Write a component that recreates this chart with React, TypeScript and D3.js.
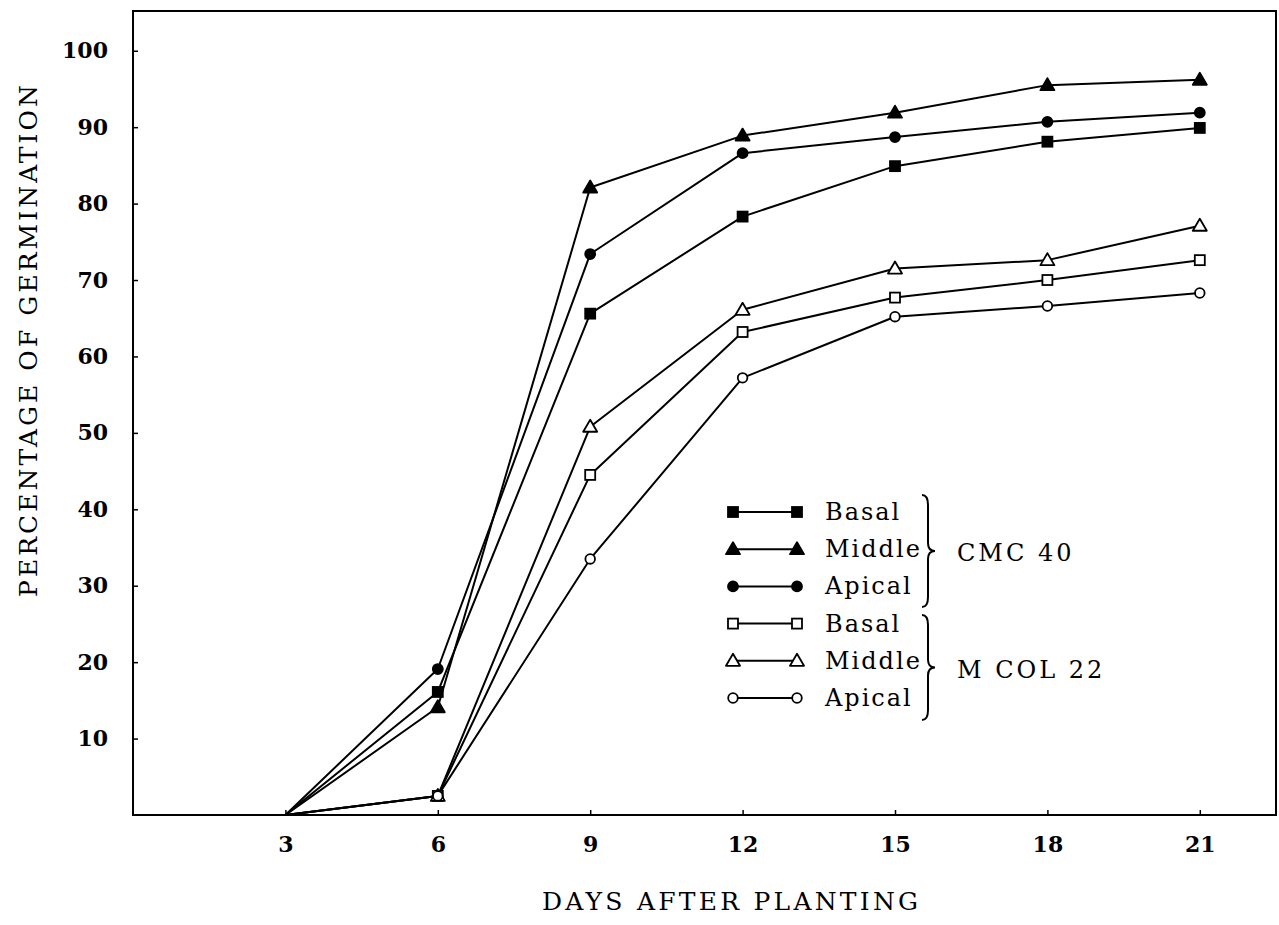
import * as d3 from 'd3';
import { useEffect, useRef } from 'react';

// days after planting
const days = [3, 6, 9, 12, 15, 18, 21];

// percentage of germination
const cmcBasal = [0, 16.1, 65.6, 78.3, 84.9, 88.1, 89.9];
const cmcMiddle = [0, 14.1, 82.1, 88.9, 91.9, 95.5, 96.2];
const cmcApical = [0, 19.1, 73.4, 86.6, 88.7, 90.7, 91.9];
const mcolBasal = [0, 2.5, 44.5, 63.2, 67.7, 70.0, 72.6];
const mcolMiddle = [0, 2.5, 50.8, 66.1, 71.5, 72.6, 77.1];
const mcolApical = [0, 2.5, 33.5, 57.2, 65.2, 66.6, 68.3];

const yTickValues = [10, 20, 30, 40, 50, 60, 70, 80, 90, 100];
const xTickValues = [3, 6, 9, 12, 15, 18, 21];

const seriesNames = ['Basal', 'Middle', 'Apical', 'Basal', 'Middle', 'Apical'];
const seriesShapes = ['square', 'triangle', 'circle', 'square', 'triangle', 'circle'];
const seriesFilled = [true, true, true, false, false, false];
const seriesValues = [cmcBasal, cmcMiddle, cmcApical, mcolBasal, mcolMiddle, mcolApical];
const groupNames = ['CMC 40', 'M COL 22'];

const xLabel = 'DAYS AFTER PLANTING';
const yLabel = 'PERCENTAGE OF GERMINATION';

const W = 1279;
const H = 925;
const FONT = '"DejaVu Serif", serif';

function drawMarker(g, shape, filled, cx, cy) {
    const fill = filled ? '#000' : '#fff';
    if (shape === 'square') {
        g.append('rect')
            .attr('x', cx - 5).attr('y', cy - 5)
            .attr('width', 10).attr('height', 10)
            .attr('fill', fill).attr('stroke', '#000').attr('stroke-width', 1.8);
    } else if (shape === 'triangle') {
        g.append('path')
            .attr('d', `M${cx},${cy - 7} L${cx + 7},${cy + 5} L${cx - 7},${cy + 5} Z`)
            .attr('fill', fill).attr('stroke', '#000').attr('stroke-width', 1.8)
            .attr('stroke-linejoin', 'round');
    } else {
        g.append('circle')
            .attr('cx', cx).attr('cy', cy).attr('r', filled ? 5 : 4.8)
            .attr('fill', fill).attr('stroke', '#000').attr('stroke-width', 1.8);
    }
}

function bracePath(x, y0, y1, w) {
    const ym = (y0 + y1) / 2;
    const xm = x + w * 0.6;
    return `M${x},${y0} Q${xm},${y0} ${xm},${y0 + w}` +
        ` L${xm},${ym - w * 0.8} Q${xm},${ym} ${x + w * 1.3},${ym}` +
        ` Q${xm},${ym} ${xm},${ym + w * 0.8}` +
        ` L${xm},${y1 - w} Q${xm},${y1} ${x},${y1}`;
}

const App = () => {
    const svgRef = useRef(null);
    const margin = { top: 11, bottom: 110, right: 3, left: 133 };

    useEffect(() => {
        const svg = d3.select(svgRef.current)
            .attr('width', W)
            .attr('height', H);
        svg.selectAll('*').remove();

        const x = d3.scaleLinear().domain([0, 22.5]).range([margin.left, W - margin.right]);
        const y = d3.scaleLinear().domain([0, 105.2]).range([H - margin.bottom, margin.top]);

        svg.append('rect').attr('width', W).attr('height', H).attr('fill', '#fff');

        // frame
        svg.append('rect')
            .attr('x', x(0)).attr('y', y(105.2))
            .attr('width', x(22.5) - x(0)).attr('height', y(0) - y(105.2))
            .attr('fill', 'none').attr('stroke', '#000').attr('stroke-width', 2);

        const xAxis = d3.axisBottom(x).tickValues(xTickValues).tickSize(-5).tickPadding(21)
            .tickFormat(d3.format('d'));
        const yAxis = d3.axisLeft(y).tickValues(yTickValues).tickSize(-5).tickPadding(25)
            .tickFormat(d3.format('d'));

        const gx = svg.append('g').attr('transform', `translate(0,${y(0)})`).call(xAxis);
        const gy = svg.append('g').attr('transform', `translate(${x(0)},0)`).call(yAxis);
        [gx, gy].forEach(g => {
            g.select('.domain').remove();
            g.selectAll('line').attr('stroke', '#000').attr('stroke-width', 1.5);
            g.selectAll('text')
                .attr('fill', '#000')
                .style('font-family', FONT)
                .style('font-size', '22px')
                .style('font-weight', 'bold');
        });

        svg.append('text')
            .attr('x', 542).attr('y', 910)
            .attr('textLength', 376).attr('lengthAdjust', 'spacing')
            .style('font-family', FONT).style('font-size', '25px')
            .text(xLabel);
        svg.append('text')
            .attr('transform', 'rotate(270)')
            .attr('x', -597).attr('y', 37)
            .attr('textLength', 512).attr('lengthAdjust', 'spacing')
            .style('font-family', FONT).style('font-size', '25px')
            .text(yLabel);

        // series
        const line = d3.line().x((d, i) => x(days[i])).y(d => y(d));
        for (let s = 0; s < seriesValues.length; s++) {
            const vals = seriesValues[s];
            svg.append('path')
                .attr('d', line(vals))
                .attr('fill', 'none').attr('stroke', '#000').attr('stroke-width', 2)
                .attr('stroke-linejoin', 'round');
        }
        for (let s = 0; s < seriesValues.length; s++) {
            const vals = seriesValues[s];
            const g = svg.append('g');
            for (let i = 0; i < vals.length; i++) {
                if (vals[i] === 0) continue;
                drawMarker(g, seriesShapes[s], seriesFilled[s], x(days[i]), y(vals[i]));
            }
        }

        // legend
        const lg = svg.append('g');
        const rowY = i => 512 + i * 37.2;
        for (let s = 0; s < seriesNames.length; s++) {
            const ry = rowY(s);
            lg.append('line')
                .attr('x1', 733).attr('x2', 797).attr('y1', ry).attr('y2', ry)
                .attr('stroke', '#000').attr('stroke-width', 2);
            drawMarker(lg, seriesShapes[s], seriesFilled[s], 733, ry);
            drawMarker(lg, seriesShapes[s], seriesFilled[s], 797, ry);
            lg.append('text')
                .attr('x', 825).attr('y', ry + 8)
                .style('font-family', FONT).style('font-size', '24px')
                .style('letter-spacing', '2px')
                .text(seriesNames[s]);
        }
        const braces = [[495, 607], [615, 720]];
        braces.forEach(([b0, b1], k) => {
            lg.append('path')
                .attr('d', bracePath(922, b0, b1, 10))
                .attr('fill', 'none').attr('stroke', '#000').attr('stroke-width', 2);
            lg.append('text')
                .attr('x', 957).attr('y', (b0 + b1) / 2 + 10)
                .style('font-family', FONT).style('font-size', '24px')
                .style('letter-spacing', '3px')
                .text(groupNames[k]);
        });
    });

    return (
        <div style={{ position: 'absolute', left: 0, top: 0 }}>
            <svg ref={svgRef} style={{ display: 'block' }} />
        </div>
    );
};

export default App;
